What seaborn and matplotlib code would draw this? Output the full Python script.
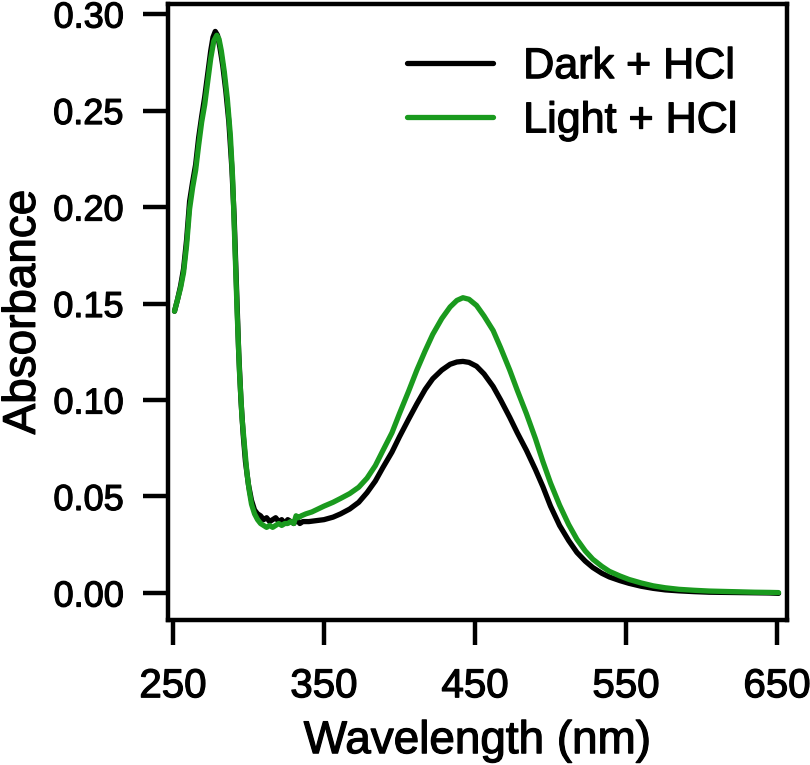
import matplotlib
matplotlib.use("Agg")
import matplotlib.pyplot as plt
import matplotlib.patheffects as pe
import numpy as np
import pandas as pd
import seaborn as sns

# ---- data ----
dark_wl = [251, 253, 255, 257, 259, 261, 263, 265, 267, 269, 271, 273, 275, 276.5, 278, 279.5,
           281, 283, 285, 287, 289, 290.5, 292, 293.5, 295, 296.5, 298, 300, 302, 304, 306, 308,
           310, 312, 314, 316, 318, 320, 322, 324, 326, 328, 330, 332, 334, 336, 340, 345, 350,
           356, 361, 367, 373, 378.5, 384, 389, 395, 400, 406, 411.5, 417, 422, 428, 433.5, 438,
           442, 446, 451, 456, 462, 467, 473, 478, 484, 490, 495, 500, 506, 512, 517.5, 523, 528,
           534, 539, 546, 552, 560, 568, 576, 585, 595, 605, 615, 625, 635, 645, 651]
dark_abs = [0.146, 0.152, 0.159, 0.168, 0.183, 0.203, 0.213, 0.222, 0.236, 0.247, 0.257, 0.269,
            0.281, 0.288, 0.291, 0.289, 0.283, 0.273, 0.260, 0.244, 0.220, 0.195, 0.160, 0.125,
            0.100, 0.082, 0.068, 0.056, 0.048, 0.043, 0.041, 0.040, 0.038, 0.039, 0.037, 0.038,
            0.039, 0.037, 0.038, 0.036, 0.038, 0.037, 0.036, 0.038, 0.036, 0.037, 0.037, 0.0375,
            0.038, 0.0393, 0.041, 0.0435, 0.047, 0.052, 0.058, 0.065, 0.073, 0.081, 0.090, 0.098,
            0.1055, 0.1110, 0.1155, 0.1185, 0.1197, 0.120, 0.1195, 0.1175, 0.1135, 0.107, 0.100,
            0.091, 0.083, 0.074, 0.064, 0.055, 0.045, 0.035, 0.0272, 0.021, 0.0165, 0.0132,
            0.0102, 0.0083, 0.0064, 0.0050, 0.0035, 0.0024, 0.0016, 0.0011, 0.0007, 0.0004,
            0.0003, 0.0002, 0.0001, 0.0, -0.0002]

light_wl = [251, 253, 255, 257, 259, 261, 263, 265, 267, 269, 271, 273, 275, 277, 279, 280.5,
            282, 284, 286, 288, 289.5, 291, 292.5, 294, 295.7, 297.5, 299, 300.5, 302, 304, 306,
            308, 310, 312, 314, 316, 318, 320, 322, 324, 326, 328, 330, 331.5, 333, 335, 338, 342,
            346, 350, 356, 361, 367, 373, 378.5, 384, 389, 395, 400, 406, 411.5, 417, 422, 428,
            433.5, 438, 442, 446, 451, 456, 462, 467, 473, 478, 484, 490, 495, 500, 506, 512,
            517.5, 523, 528, 534, 539, 546, 552, 560, 568, 576, 585, 595, 605, 615, 625, 635,
            645, 651]
light_abs = [0.146, 0.152, 0.158, 0.166, 0.180, 0.199, 0.210, 0.219, 0.232, 0.244, 0.253, 0.265,
             0.277, 0.286, 0.289, 0.287, 0.281, 0.270, 0.256, 0.237, 0.215, 0.180, 0.145, 0.115,
             0.091, 0.075, 0.062, 0.053, 0.046, 0.041, 0.038, 0.036, 0.035, 0.034, 0.035, 0.034,
             0.035, 0.036, 0.035, 0.036, 0.036, 0.037, 0.036, 0.040, 0.039, 0.040, 0.041, 0.042,
             0.0435, 0.045, 0.047, 0.049, 0.0515, 0.0548, 0.0595, 0.066, 0.0738, 0.083, 0.093,
             0.1045, 0.1155, 0.1255, 0.1340, 0.1422, 0.1482, 0.1516, 0.153, 0.1522, 0.149, 0.1435,
             0.136, 0.127, 0.1155, 0.105, 0.093, 0.080, 0.068, 0.057, 0.0455, 0.0355, 0.0278,
             0.0218, 0.0175, 0.0138, 0.0112, 0.0088, 0.0070, 0.0052, 0.0037, 0.0027, 0.0019,
             0.0014, 0.0010, 0.0008, 0.0006, 0.0004, 0.0003, 0.0002]

series_names = ["Dark + HCl", "Light + HCl"]
x_ticks = [250, 350, 450, 550, 650]
y_ticks = [0.00, 0.05, 0.10, 0.15, 0.20, 0.25, 0.30]

df = pd.concat([
    pd.DataFrame({"Wavelength": dark_wl, "Absorbance": dark_abs, "series": series_names[0]}),
    pd.DataFrame({"Wavelength": light_wl, "Absorbance": light_abs, "series": series_names[1]}),
], ignore_index=True)

sns.set_style("ticks")
plt.rcParams["font.family"] = ["Liberation Sans", "DejaVu Sans"]
plt.rcParams["text.color"] = "black"
plt.rcParams["axes.labelcolor"] = "black"

fig = plt.figure(figsize=(8.1, 7.65), dpi=100)
ax = fig.add_axes([168 / 810, 1 - 620 / 765, (787 - 168) / 810, (620 - 4) / 765])

sns.lineplot(data=df, x="Wavelength", y="Absorbance", hue="series",
             hue_order=series_names,
             palette={series_names[0]: "#000000", series_names[1]: "#1A9A1E"},
             sort=False, estimator=None, linewidth=3.8, ax=ax)

ax.set_xlim(246.7, 656.6)
ax.set_ylim(-0.014, 0.3052)
ax.set_xticks(x_ticks)
ax.set_yticks(y_ticks)
ax.set_yticklabels([f"{v:.2f}" for v in y_ticks])

for s in ax.spines.values():
    s.set_linewidth(3.2)
    s.set_color("black")
    s.set_visible(True)

ax.tick_params(axis="both", direction="out", length=18, width=3.2, colors="black")
ax.tick_params(axis="y", pad=14, labelsize=26)
ax.tick_params(axis="x", pad=16, labelsize=29)

ax.set_xlabel("Wavelength (nm)", fontsize=33, labelpad=10, color="black")
ax.set_ylabel("Absorbance", fontsize=33, labelpad=6, color="black")

leg = ax.legend(loc="upper left", bbox_to_anchor=(0.386, 0.93), frameon=False,
                fontsize=31, handlelength=2.0, handletextpad=0.7, labelspacing=0.33,
                borderpad=0, borderaxespad=0)
for line in leg.get_lines():
    line.set_linewidth(3.8)

# slightly heavier glyph strokes, like the reference rendering
thick = [pe.withStroke(linewidth=0.9, foreground="black")]
texts = (list(leg.get_texts()) + ax.get_xticklabels() + ax.get_yticklabels()
         + [ax.xaxis.label, ax.yaxis.label])
for t in texts:
    t.set_color("black")
    t.set_path_effects(thick)

fig.savefig("out.png", dpi=100)
